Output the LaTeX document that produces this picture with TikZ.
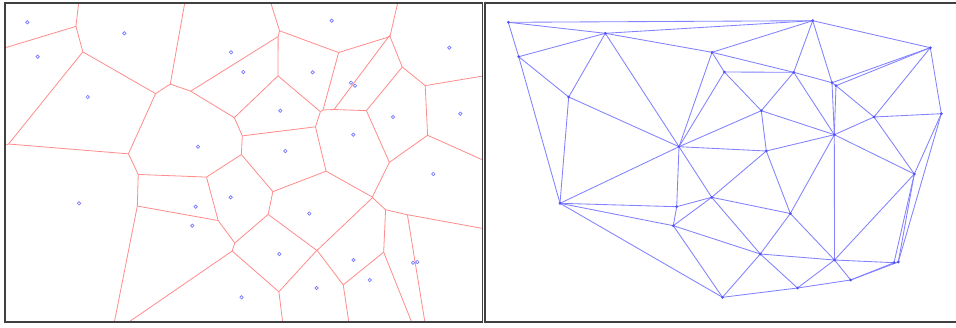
\documentclass[tikz,border=0pt]{standalone}
\usepackage{xfp}
\newcommand\gx[1]{(\csname PX#1\endcsname)}
\newcommand\gy[1]{(\csname PY#1\endcsname)}
\newcommand\setpt[3]{%
 \expandafter\def\csname PX#1\endcsname{#2}%
 \expandafter\def\csname PY#1\endcsname{#3}%
 \coordinate (p#1) at (#2,#3);
 \coordinate (q#1) at ({#2+481},#3);}
\newcommand\mkcc[4]{%
 \edef\ccd{\fpeval{2*(\gx{#2}*(\gy{#3}-\gy{#4})+\gx{#3}*(\gy{#4}-\gy{#2})+\gx{#4}*(\gy{#2}-\gy{#3}))}}%
 \edef\cca{\fpeval{\gx{#2}^2+\gy{#2}^2}}%
 \edef\ccb{\fpeval{\gx{#3}^2+\gy{#3}^2}}%
 \edef\ccc{\fpeval{\gx{#4}^2+\gy{#4}^2}}%
 \edef\ccx{\fpeval{round(((\cca)*(\gy{#3}-\gy{#4})+(\ccb)*(\gy{#4}-\gy{#2})+(\ccc)*(\gy{#2}-\gy{#3}))/(\ccd),3)}}%
 \edef\ccy{\fpeval{round(((\cca)*(\gx{#4}-\gx{#3})+(\ccb)*(\gx{#2}-\gx{#4})+(\ccc)*(\gx{#3}-\gx{#2}))/(\ccd),3)}}%
 \expandafter\xdef\csname CX#1\endcsname{\ccx}%
 \expandafter\xdef\csname CY#1\endcsname{\ccy}%
 \coordinate (#1) at ({\ccx},{\ccy});}
\newcommand\mkray[5]{%
 \edef\rnx{\fpeval{-(\gy{#3}-\gy{#2})}}%
 \edef\rny{\fpeval{\gx{#3}-\gx{#2}}}%
 \edef\rf{\fpeval{-sign((\rnx)*(\gx{#4}-\gx{#2})+(\rny)*(\gy{#4}-\gy{#2}))}}%
 \edef\rl{\fpeval{sqrt((\rnx)^2+(\rny)^2)}}%
 \edef\ccx{\fpeval{round((\csname CX#5\endcsname)+1500*(\rf)*(\rnx)/(\rl),3)}}%
 \edef\ccy{\fpeval{round((\csname CY#5\endcsname)+1500*(\rf)*(\rny)/(\rl),3)}}%
 \coordinate (#1) at ({\ccx},{\ccy});}
\definecolor{vorcol}{RGB}{255,140,140}
\definecolor{delcol}{RGB}{130,130,255}
\definecolor{ptcol}{RGB}{120,120,255}
\definecolor{dotcol}{RGB}{80,80,245}
\begin{document}
\begin{tikzpicture}[x=1pt,y=-1pt,
  vor/.style={draw=vorcol,line width=0.8pt},
  del/.style={draw=delcol,line width=0.85pt},
  ptL/.style={draw=ptcol,line width=0.7pt},
  ptR/.style={fill=dotcol},
  frame/.style={draw=black!75,line width=1.6pt}]
\useasboundingbox (0,0) rectangle (956,327);
\fill[white] (0,0) rectangle (956,327);
% points
\setpt{A}{27.3}{22.3}
\setpt{B}{124.3}{33.3}
\setpt{C}{37.7}{56.7}
\setpt{D}{231}{52.3}
\setpt{E}{243.3}{72}
\setpt{F}{87.7}{97}
\setpt{G}{198}{146.7}
\setpt{H}{331.7}{20.7}
\setpt{I}{449.3}{47.7}
\setpt{J}{312.7}{72.3}
\setpt{K}{351}{82.7}
\setpt{L}{355}{85.7}
\setpt{M}{280.3}{110.7}
\setpt{N}{393}{117}
\setpt{O}{460.3}{113.7}
\setpt{P}{353.3}{134.7}
\setpt{Q}{285.3}{151}
\setpt{R}{79}{203.3}
\setpt{S}{195.7}{206.7}
\setpt{T}{230.7}{197.3}
\setpt{U}{192.3}{225.7}
\setpt{V}{241.5}{297.3}
\setpt{W}{433.3}{174}
\setpt{X}{309.3}{213.5}
\setpt{Y}{279.3}{254}
\setpt{Z}{353.5}{260}
\setpt{AA}{369.7}{280}
\setpt{AB}{413}{262.7}
\setpt{AC}{417.3}{262}
\setpt{AD}{316.5}{288}
% circumcentres (Voronoi vertices)
\mkcc{t1}{A}{B}{H}
\mkcc{t2}{A}{B}{C}
\mkcc{t3}{B}{C}{F}
\mkcc{t4}{B}{F}{G}
\mkcc{t5}{B}{G}{D}
\mkcc{t6}{B}{D}{H}
\mkcc{t7}{D}{H}{J}
\mkcc{t8}{D}{E}{J}
\mkcc{t9}{D}{E}{G}
\mkcc{t10}{E}{G}{M}
\mkcc{t11}{E}{J}{M}
\mkcc{t12}{J}{M}{P}
\mkcc{t13}{J}{K}{P}
\mkcc{t14}{H}{J}{K}
\mkcc{t15}{H}{K}{I}
\mkcc{t16}{K}{L}{I}
\mkcc{t17}{K}{L}{P}
\mkcc{t18}{L}{I}{N}
\mkcc{t19}{L}{N}{P}
\mkcc{t20}{I}{N}{O}
\mkcc{t21}{N}{O}{W}
\mkcc{t22}{N}{P}{W}
\mkcc{t23}{P}{W}{Z}
\mkcc{t24}{P}{X}{Z}
\mkcc{t25}{P}{Q}{X}
\mkcc{t26}{M}{P}{Q}
\mkcc{t27}{G}{M}{Q}
\mkcc{t28}{G}{Q}{T}
\mkcc{t29}{Q}{T}{X}
\mkcc{t30}{T}{X}{Y}
\mkcc{t31}{X}{Y}{Z}
\mkcc{t32}{T}{U}{Y}
\mkcc{t33}{S}{T}{U}
\mkcc{t34}{G}{S}{T}
\mkcc{t35}{G}{R}{S}
\mkcc{t36}{F}{G}{R}
\mkcc{t37}{C}{F}{R}
\mkcc{t38}{R}{S}{U}
\mkcc{t39}{R}{U}{V}
\mkcc{t40}{U}{V}{Y}
\mkcc{t41}{V}{Y}{AD}
\mkcc{t42}{Y}{Z}{AD}
\mkcc{t43}{Z}{AD}{AA}
\mkcc{t44}{Z}{AA}{AB}
\mkcc{t45}{Z}{W}{AB}
\mkcc{t46}{W}{AB}{AC}
\mkcc{t47}{W}{O}{AC}
\mkcc{t48}{AA}{AB}{AC}
% rays for hull edges
\mkray{r1}{A}{H}{B}{t1}
\mkray{r2}{H}{I}{K}{t15}
\mkray{r3}{I}{O}{N}{t20}
\mkray{r4}{O}{AC}{W}{t47}
\mkray{r5}{AC}{AA}{AB}{t48}
\mkray{r6}{AA}{AD}{Z}{t43}
\mkray{r7}{AD}{V}{Y}{t41}
\mkray{r8}{V}{R}{U}{t39}
\mkray{r9}{R}{C}{F}{t37}
\mkray{r10}{C}{A}{B}{t2}
% Voronoi diagram (left)
\begin{scope}
\clip (5,3) rectangle (482.5,322);
\foreach \a/\b in {1/2,1/6,2/3,3/37,3/4,4/36,4/5,5/9,5/6,6/7,7/14,7/8,8/9,8/11,
  9/10,10/11,10/27,11/12,12/26,12/13,13/14,13/17,14/15,15/16,16/17,16/18,17/19,
  18/19,18/20,19/22,20/21,21/22,21/47,22/23,23/45,23/24,24/31,24/25,25/29,25/26,
  26/27,27/28,28/29,28/34,29/30,30/31,30/32,31/42,32/33,32/40,33/34,33/38,34/35,
  35/36,35/38,36/37,38/39,39/40,40/41,41/42,42/43,43/44,44/48,44/45,45/46,46/48,46/47}
  \draw[vor] (t\a) -- (t\b);
\foreach \a/\b in {1/1,2/15,3/20,4/47,5/48,6/43,7/41,8/39,9/37,10/2}
  \draw[vor] (t\b) -- (r\a);
\end{scope}
\foreach \n in {A,B,C,D,E,F,G,H,I,J,K,L,M,N,O,P,Q,R,S,T,U,V,W,X,Y,Z,AA,AB,AC,AD}
  \draw[ptL] (p\n) circle (1.7pt);
% Delaunay triangulation (right)
\foreach \a/\b in {A/B,A/H,B/H,A/C,B/C,C/F,B/F,F/G,B/G,G/D,B/D,D/H,H/J,D/J,D/E,E/J,
  E/G,E/M,G/M,J/M,M/P,J/P,J/K,K/P,H/K,H/I,K/I,K/L,L/I,L/P,L/N,I/N,N/P,I/O,N/O,N/W,
  O/W,P/W,W/Z,P/Z,X/Z,P/X,Q/X,P/Q,M/Q,G/Q,Q/T,G/T,T/X,X/Y,T/Y,Y/Z,T/U,U/Y,S/T,S/U,
  G/S,G/R,R/S,F/R,C/R,R/U,R/V,U/V,V/Y,V/AD,Y/AD,Z/AD,AD/AA,Z/AA,AA/AB,Z/AB,W/AB,
  AB/AC,W/AC,O/AC,AA/AC}
  \draw[del] (q\a) -- (q\b);
\foreach \n in {A,B,C,D,E,F,G,H,I,J,K,L,M,N,O,P,Q,R,S,T,U,V,W,X,Y,Z,AA,AB,AC,AD}
  \fill[ptR] (q\n) circle (1.5pt);
% frames
\draw[frame] (5,3) rectangle (482.5,322);
\draw[frame] (958,3) -- (485,3) -- (485,322) -- (958,322);
\end{tikzpicture}
\end{document}
